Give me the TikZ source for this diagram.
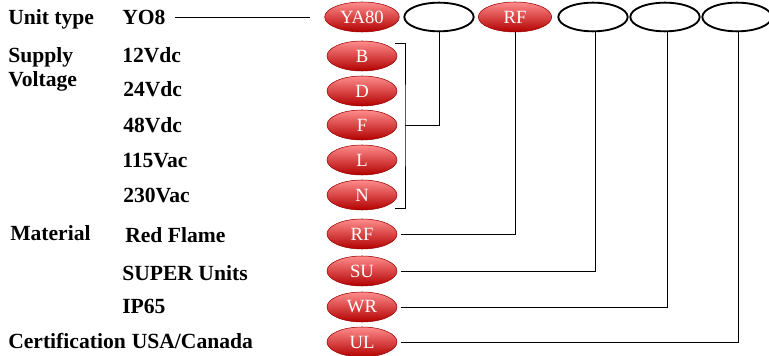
\documentclass[tikz,border=0pt]{standalone}
\usepackage{fontspec}
\setmainfont{Liberation Serif}
\usepackage{tikz}
\usetikzlibrary{shapes.geometric}

\begin{document}
\begin{tikzpicture}[x=0.75pt,y=-0.75pt]
\tikzstyle{codeNode} =
[
	shape			= ellipse,			% shape
	minimum width	= 52.5pt,			% | minimum size
	minimum height	= 22.5pt,			% |
	inner sep		= 0pt,
	draw			= red!60!black,		% colour of the border
	top color		= red!45!white,		% | filling colors
	middle color	= red!100,			% |
	bottom color	= red!70!black,		% |
	text			= white,
	font			= \fontsize{14}{16}\selectfont	% used font
]
\tikzstyle{slotNode} =
[
	shape			= ellipse,			% shape
	minimum width	= 52pt,				% | minimum size
	minimum height	= 21.5pt,			% |
	line width		= 1.4pt,			% thickness of the border
	draw			= black
]
\tikzstyle{labelNode} =
[
	anchor			= base west,
	inner sep		= 0pt,
	font			= \fontsize{16.2}{18}\selectfont\bfseries
]
\useasboundingbox (0,0) rectangle (769,356);
% left column
\node (unit) [labelNode] at (8,25) {Unit type};
\node (supply) [labelNode] at (8,63) {Supply};
\node (voltage) [labelNode] at (8,87) {Voltage};
\node (material) [labelNode] at (10,241) {Material};
\node (cert) [labelNode] at (8,349) {Certification};
% middle column
\node (yo8) [labelNode] at (122,25) {YO8};
\node (v12) [labelNode] at (122,63) {12Vdc};
\node (v24) [labelNode] at (123,97) {24Vdc};
\node (v48) [labelNode] at (123,133) {48Vdc};
\node (v115) [labelNode] at (122,168) {115Vac};
\node (v230) [labelNode] at (123,203) {230Vac};
\node (redflame) [labelNode] at (125,243) {Red Flame};
\node (super) [labelNode] at (122,281) {SUPER Units};
\node (ip65) [labelNode] at (122,314) {IP65};
\node (usa) [labelNode] at (cert.base east) {\ USA/Canada};
% code row
\node (ya80) [codeNode, minimum width = 56pt] at (362,17) {YA80};
\node (slotA) [slotNode] at (439,17) {};
\node (selRF) [codeNode, minimum width = 55pt] at (515,17) {RF};
\node (slotB) [slotNode] at (593,17) {};
\node (slotC) [slotNode] at (665,17) {};
\node (slotD) [slotNode] at (737,17) {};
% options
\node (optB) [codeNode] at (362,56) {B};
\node (optD) [codeNode] at (362,91) {D};
\node (optF) [codeNode] at (362,125) {F};
\node (optL) [codeNode] at (362,160) {L};
\node (optN) [codeNode] at (362,195) {N};
\node (optRF) [codeNode] at (362,234) {RF};
\node (optSU) [codeNode] at (362,271) {SU};
\node (optWR) [codeNode] at (362,307) {WR};
\node (optUL) [codeNode] at (362,342) {UL};
\coordinate (bTop) at (395,43);
\coordinate (bMid) at (405,125);
\coordinate (bBot) at (395,208);
\draw [shorten <= 7pt, shorten >= 11pt] (yo8.east |- ya80) -- (ya80.west);
\draw (bTop) -| (bMid) |- (bBot);
\draw (bMid) -| (slotA.south);
\draw [shorten <= 3pt] (optRF.east) -| (selRF.south);
\draw [shorten <= 3pt] (optSU.east) -| ([xshift=2pt]slotB.south);
\draw [shorten <= 3pt] (optWR.east) -| ([xshift=1.5pt]slotC.south);
\draw [shorten <= 3pt] (optUL.east) -| ([xshift=0.75pt]slotD.south);
\end{tikzpicture}
\end{document}
